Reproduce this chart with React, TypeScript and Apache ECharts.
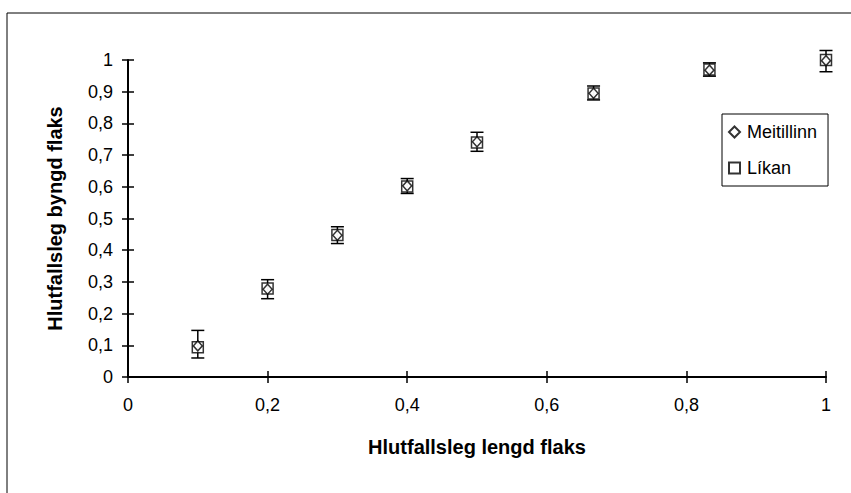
import React, { useEffect, useRef } from "react";
import * as echarts from "echarts";

const xValues = [0.1, 0.2, 0.3, 0.4, 0.5, 0.667, 0.833, 1.0];
const meitillinn = [0.098, 0.277, 0.447, 0.603, 0.742, 0.895, 0.968, 0.998];
const likan = [0.094, 0.279, 0.448, 0.601, 0.74, 0.894, 0.97, 1.0];
const errLow = [0.06, 0.247, 0.421, 0.579, 0.712, 0.874, 0.949, 0.963];
const errHigh = [0.147, 0.307, 0.474, 0.626, 0.772, 0.918, 0.991, 1.03];
const seriesNames = ["Meitillinn", "Líkan"];
const xTitle = "Hlutfallsleg lengd flaks";
const yTitle = "Hlutfallsleg byngd flaks";

const FONT = "'Liberation Sans', Arial, sans-serif";
const fmt = (v: number) => String(Math.round(v * 10) / 10).replace(".", ",");

export default function App() {
  const ref = useRef<HTMLDivElement>(null);
  useEffect(() => {
    if (!ref.current) return;
    const chart = echarts.init(ref.current, null, { renderer: "svg" });
    const baseAxis = {
      type: "value" as const,
      min: 0,
      max: 1,
      splitLine: { show: false },
    };
    const markerStyle = { color: "#ffffff", borderColor: "#000000", borderWidth: 1.5 };
    chart.setOption({
      animation: false,
      backgroundColor: "#ffffff",
      textStyle: { fontFamily: FONT },
      graphic: [
        {
          type: "rect",
          shape: { x: 7, y: 13, width: 900, height: 600 },
          style: { fill: "none", stroke: "#000", lineWidth: 1 },
          silent: true,
        },
      ],
      grid: { left: 128, right: 25, top: 60, bottom: 116, outerBoundsMode: "none" },
      legend: {
        orient: "vertical",
        left: 722,
        top: 114,
        padding: [9, 11, 9, 6],
        itemGap: 18,
        itemWidth: 11,
        itemHeight: 11,
        borderColor: "#000",
        borderWidth: 1,
        backgroundColor: "#fff",
        textStyle: { fontFamily: FONT, fontSize: 18, color: "#000", padding: [0, 0, 0, 2] },
        data: [
          { name: seriesNames[0], icon: "diamond" },
          { name: seriesNames[1], icon: "rect" },
        ],
      },
      xAxis: [
        {
          ...baseAxis,
          interval: 0.2,
          position: "bottom",
          name: xTitle,
          nameLocation: "middle",
          nameGap: 60,
          nameTextStyle: { fontFamily: FONT, fontSize: 20, fontWeight: "bold", color: "#000" },
          axisLine: { show: true, lineStyle: { color: "#000", width: 2 } },
          axisTick: { show: true, inside: false, length: 6, lineStyle: { color: "#000", width: 1.5 } },
          axisLabel: { fontFamily: FONT, fontSize: 18, color: "#000", margin: 19, formatter: fmt },
        },
        {
          ...baseAxis,
          interval: 0.2,
          position: "bottom",
          axisLine: { show: false },
          axisTick: { show: true, inside: true, length: 6, lineStyle: { color: "#000", width: 1.5 } },
          axisLabel: { show: false },
        },
      ],
      yAxis: [
        {
          ...baseAxis,
          interval: 0.1,
          position: "left",
          name: yTitle,
          nameLocation: "middle",
          nameGap: 63,
          nameTextStyle: { fontFamily: FONT, fontSize: 20, fontWeight: "bold", color: "#000" },
          axisLine: { show: true, lineStyle: { color: "#000", width: 2 } },
          axisTick: { show: true, inside: false, length: 6, lineStyle: { color: "#000", width: 1.5 } },
          axisLabel: { fontFamily: FONT, fontSize: 18, color: "#000", margin: 15, formatter: fmt },
        },
        {
          ...baseAxis,
          interval: 0.1,
          position: "left",
          axisLine: { show: false },
          axisTick: { show: true, inside: true, length: 6, lineStyle: { color: "#000", width: 1.5 } },
          axisLabel: { show: false },
        },
      ],
      series: [
        {
          type: "custom",
          name: "err",
          xAxisIndex: 0,
          yAxisIndex: 0,
          clip: false,
          silent: true,
          data: xValues.map((x, i) => [x, errLow[i], errHigh[i]]),
          renderItem: (params: any, api: any) => {
            const x = api.value(0);
            const lo = api.coord([x, api.value(1)]);
            const hi = api.coord([x, api.value(2)]);
            const w = 6.5;
            const st = { stroke: "#000", lineWidth: 1.5 };
            return {
              type: "group",
              children: [
                { type: "line", shape: { x1: lo[0], y1: lo[1], x2: hi[0], y2: hi[1] }, style: st },
                { type: "line", shape: { x1: lo[0] - w, y1: lo[1], x2: lo[0] + w, y2: lo[1] }, style: st },
                { type: "line", shape: { x1: hi[0] - w, y1: hi[1], x2: hi[0] + w, y2: hi[1] }, style: st },
              ],
            };
          },
          z: 1,
        },
        {
          type: "scatter",
          name: seriesNames[1],
          xAxisIndex: 0,
          yAxisIndex: 0,
          symbol: "rect",
          symbolSize: 11,
          itemStyle: markerStyle,
          data: xValues.map((x, i) => [x, likan[i]]),
          z: 2,
        },
        {
          type: "scatter",
          name: seriesNames[0],
          xAxisIndex: 0,
          yAxisIndex: 0,
          symbol: "diamond",
          symbolSize: [9, 10],
          itemStyle: markerStyle,
          data: xValues.map((x, i) => [x, meitillinn[i]]),
          z: 3,
        },
      ],
    });
    return () => chart.dispose();
  }, []);
  return (
    <div
      ref={ref}
      style={{ position: "fixed", left: 0, top: 0, width: 851, height: 493, background: "#fff" }}
    />
  );
}
